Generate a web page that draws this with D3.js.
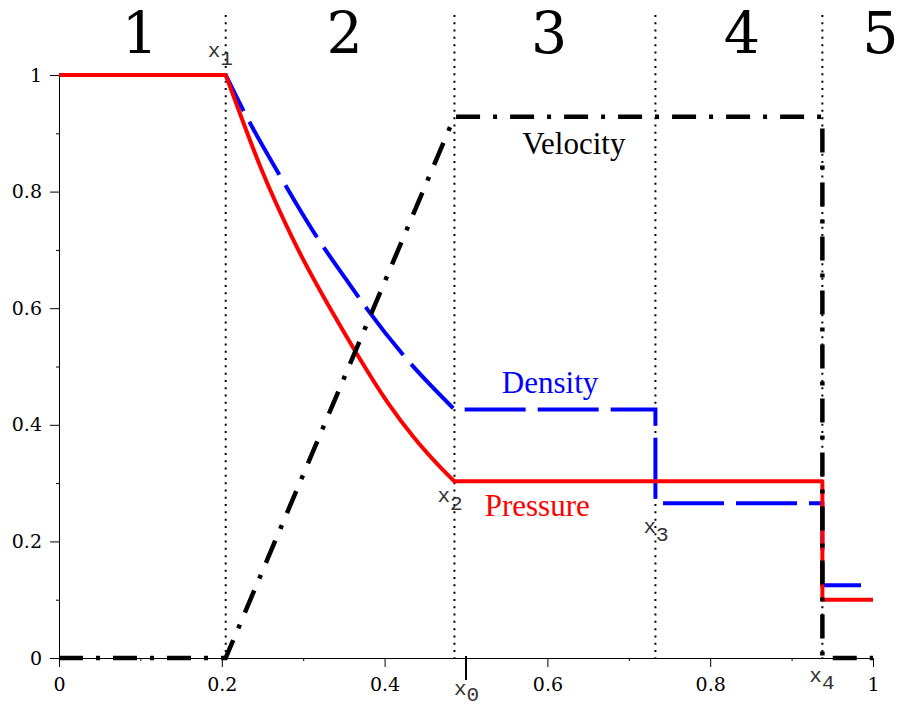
<!DOCTYPE html>
<html>
<head>
<meta charset="utf-8">
<script src="https://cdn.jsdelivr.net/npm/d3@7"></script>
<style>
  html, body { margin: 0; padding: 0; background: #fff; }
  svg { display: block; }
</style>
</head>
<body>
<svg id="chart" width="901" height="707"></svg>
<script>
// ---- data ----
const xTicks = [0, 0.2, 0.4, 0.6, 0.8, 1];
const xTickLabels = ["0", "0.2", "0.4", "0.6", "0.8", "1"];
const xMinorTicks = [0.1, 0.3, 0.7, 0.9];
const yTicks = [0, 0.2, 0.4, 0.6, 0.8, 1];
const yTickLabels = ["0", "0.2", "0.4", "0.6", "0.8", "1"];
const yMinorTicks = [0.1, 0.3, 0.5, 0.7, 0.9];

// wave positions x1..x4 and the diaphragm x0
const boundaryNames = ["1", "2", "3", "4"];
const boundaryX = [0.2048, 0.4858, 0.7327, 0.9378];
const diaphragmX = 0.5;

const regionNames = ["1", "2", "3", "4", "5"];
const regionX = [0.0995, 0.351, 0.602, 0.839, 1.009];

// pressure: left state, rarefaction fan, right part
const pressureLeft = [[0, 1], [0.2048, 1]];
const pressureFan = [[0.2048, 1], [0.2180, 0.950], [0.2490, 0.837], [0.2859, 0.7226],
  [0.3534, 0.5511], [0.4045, 0.4369], [0.4353, 0.3796], [0.4701, 0.3250], [0.4858, 0.3031]];
const pressureRight = [[0.4858, 0.3031], [0.9378, 0.3031], [0.9378, 0.1], [1, 0.1]];

// density
const densityLeft = [[0, 1], [0.2048, 1]];
const densityFan = [[0.2048, 1], [0.2273, 0.937], [0.2715, 0.827], [0.3178, 0.720], [0.3534, 0.648],
  [0.3788, 0.598], [0.4251, 0.516], [0.4858, 0.4263]];
const densityRight = [[0.4858, 0.4263], [0.7327, 0.4263], [0.7327, 0.2656], [0.9378, 0.2656], [0.9378, 0.125], [1, 0.125]];

// velocity
const velocity = [[0, 0], [0.2048, 0], [0.4858, 0.9285], [0.9378, 0.9285], [0.9378, 0], [1, 0]];

// curve names, placed in data coords
const curveLabels = ["Velocity", "Density", "Pressure"];
const curveLabelX = [0.569, 0.544, 0.523];
const curveLabelY = [0.8645, 0.4545, 0.2436];
const curveColors = ["#000000", "#0000ff", "#ff0000"];

// ---- chart ----
const svg = d3.select("#chart");
const x = d3.scaleLinear().domain([0, 1]).range([59, 873]);
const y = d3.scaleLinear().domain([0, 1]).range([658, 75]);

const lin = d3.line().x(d => x(d[0])).y(d => y(d[1]));
const smooth = d3.line().x(d => x(d[0])).y(d => y(d[1])).curve(d3.curveMonotoneX);
function joined(left, fan, right) {
    return lin(left) + smooth(fan).replace(/^M/, "L") + lin(right).replace(/^M/, "L");
}

// dotted wave lines
svg.append("g").selectAll("line").data(boundaryX).join("line")
    .attr("x1", d => x(d)).attr("x2", d => x(d))
    .attr("y1", y(1.103)).attr("y2", y(0))
    .attr("stroke", "#000").attr("stroke-width", 2).attr("stroke-dasharray", "2,5.3");

// axes
const fontTick = "DejaVu Serif";
const gx = svg.append("g").attr("transform", `translate(0,${y(0)})`)
    .call(d3.axisBottom(x).tickValues(xTicks).tickFormat((d, i) => xTickLabels[i])
        .tickSize(9).tickSizeOuter(0).tickPadding(11));
gx.append("g")
    .call(d3.axisBottom(x).tickValues(xMinorTicks).tickFormat("").tickSize(3).tickSizeOuter(0))
    .select(".domain").remove();

const gy = svg.append("g").attr("transform", `translate(${x(0)},0)`)
    .call(d3.axisLeft(y).tickValues(yTicks).tickFormat((d, i) => yTickLabels[i])
        .tickSize(9).tickSizeOuter(0).tickPadding(8));
gy.append("g")
    .call(d3.axisLeft(y).tickValues(yMinorTicks).tickFormat("").tickSize(3).tickSizeOuter(0))
    .select(".domain").remove();

[gx, gy].forEach(g => {
    g.attr("font-family", fontTick).attr("font-size", 19);
    g.selectAll("text").attr("fill", "#000");
    g.selectAll("line,path").attr("stroke", "#000");
});

// long tick at x0
svg.append("line")
    .attr("x1", x(diaphragmX)).attr("x2", x(diaphragmX))
    .attr("y1", y(0) - 2).attr("y2", y(0) + 22)
    .attr("stroke", "#000").attr("stroke-width", 2);

// curves
svg.append("path")
    .attr("d", joined(densityLeft, densityFan, densityRight))
    .attr("fill", "none").attr("stroke", "#0000ff").attr("stroke-width", 4)
    .attr("stroke-dasharray", "61,12");

svg.append("path")
    .attr("d", joined(pressureLeft, pressureFan, pressureRight))
    .attr("fill", "none").attr("stroke", "#ff0000").attr("stroke-width", 4)
    .attr("stroke-linejoin", "round");

svg.append("path")
    .attr("d", lin(velocity))
    .attr("fill", "none").attr("stroke", "#000").attr("stroke-width", 4.5)
    .attr("stroke-dasharray", "24,13,4,13");

// region numbers
svg.append("g").selectAll("text").data(regionNames).join("text")
    .attr("x", (d, i) => x(regionX[i])).attr("y", 53)
    .attr("text-anchor", "middle")
    .attr("font-family", "DejaVu Serif").attr("font-size", 57)
    .text(d => d);

// x1..x4, x0 labels
const subLabels = boundaryNames.map((n, i) => ({ sub: n, xv: boundaryX[i] }))
    .concat([{ sub: "0", xv: diaphragmX }]);
const subLayout = [
    { dx: -18, base: 57, sub: 8 },
    { dx: -17, base: 502, sub: 8 },
    { dx: -12, base: 533, sub: 8 },
    { dx: -13, base: 682, sub: 7 },
    { dx: -12, base: 695, sub: 6 }
];
const lab = svg.append("g").selectAll("text").data(subLabels).join("text")
    .attr("x", (d, i) => x(d.xv) + subLayout[i].dx)
    .attr("y", (d, i) => subLayout[i].base)
    .attr("font-family", "Liberation Mono").attr("font-size", 21)
    .attr("fill", "#333");
lab.append("tspan").text("x");
lab.append("tspan").attr("dy", (d, i) => subLayout[i].sub).text(d => d.sub);

// curve names
svg.append("g").selectAll("text").data(curveLabels).join("text")
    .attr("x", (d, i) => x(curveLabelX[i])).attr("y", (d, i) => y(curveLabelY[i]))
    .attr("font-family", "Liberation Serif").attr("font-size", 31)
    .attr("fill", (d, i) => curveColors[i])
    .text(d => d);
</script>
</body>
</html>
